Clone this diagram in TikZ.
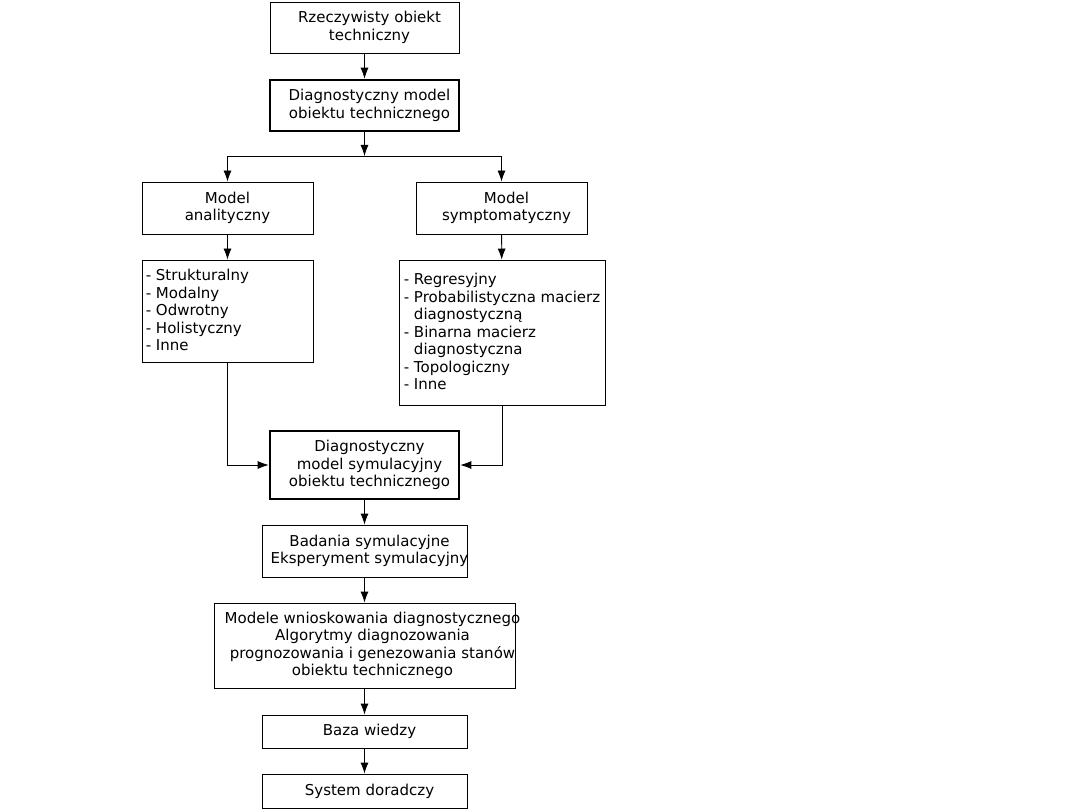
\documentclass[tikz,border=0pt]{standalone}
\usepackage{fontspec}
\setmainfont{DejaVu Sans}
\usetikzlibrary{arrows.meta}
\begin{document}
\begin{tikzpicture}[x=1pt,y=-1pt,
  txt/.style={inner sep=0pt, align=center, xshift=5pt, font=\fontsize{15}{17.5}\selectfont},
  lst/.style={inner sep=0pt, align=left, anchor=west, font=\fontsize{15}{17.5}\selectfont},
  box/.style={draw, line width=0.8pt, inner sep=0pt},
  thickbox/.style={box, line width=2.6pt},
  arr/.style={line width=0.8pt, -{Latex[length=11pt,width=8pt]}}]
\useasboundingbox (0,0) rectangle (1080,810);
\node[box, minimum width=189pt, minimum height=51pt,
  label={[txt]center:Rzeczywisty obiekt\\techniczny}] (n1) at (364.5,27.5) {};
\node[thickbox, minimum width=189pt, minimum height=51pt,
  label={[txt]center:Diagnostyczny model\\obiektu technicznego}] (n2) at (364.5,105.5) {};
\coordinate (split) at (364.5,156);
\node[box, minimum width=171pt, minimum height=52pt,
  label={[txt, xshift=-5pt]center:Model\\analityczny}] (n3) at (227.5,208) {};
\node[box, minimum width=171pt, minimum height=52pt,
  label={[txt]center:Model\\symptomatyczny}] (n4) at (501.5,208) {};
\node[box, minimum width=171pt, minimum height=102pt,
  label={[lst, xshift=4pt, yshift=1pt]west:- Strukturalny\\- Modalny\\- Odwrotny\\- Holistyczny\\- Inne}] (n5) at (227.5,311) {};
\node[box, minimum width=206pt, minimum height=145pt,
  label={[lst, xshift=5pt, yshift=1pt]west:- Regresyjny\\- Probabilistyczna macierz\\\phantom{- }diagnostyczną\\- Binarna macierz\\\phantom{- }diagnostyczna\\- Topologiczny\\- Inne}] (n6) at (502,332.5) {};
\node[thickbox, minimum width=189pt, minimum height=68pt,
  label={[txt]center:Diagnostyczny\\model symulacyjny\\obiektu technicznego}] (n7) at (364.5,465) {};
\node[box, minimum width=205pt, minimum height=52pt,
  label={[txt]center:Badania symulacyjne\\Eksperyment symulacyjny}] (n8) at (364.5,551) {};
\node[box, minimum width=301pt, minimum height=85pt,
  label={[txt, xshift=3pt]center:Modele wnioskowania diagnostycznego\\Algorytmy diagnozowania\\prognozowania i genezowania stanów\\obiektu technicznego}] (n9) at (364.5,645.5) {};
\node[box, minimum width=205pt, minimum height=33pt,
  label={[txt]center:Baza wiedzy}] (n10) at (364.5,731.5) {};
\node[box, minimum width=205pt, minimum height=34pt,
  label={[txt]center:System doradczy}] (n11) at (364.5,791) {};
\draw[arr] (n1) -- (n2);
\draw[arr] (n2) -- (split);
\draw[arr] (split) -| (n3.north);
\draw[arr] (split) -| (n4.north);
\draw[arr] (n3) -- (n5);
\draw[arr] (n4) -- (n6);
\draw[arr] (n5.south) |- (n7.west);
\draw[arr] (n6.south) |- (n7.east);
\draw[arr] (n7) -- (n8);
\draw[arr] (n8) -- (n9);
\draw[arr] (n9) -- (n10);
\draw[arr] (n10) -- (n11);
\end{tikzpicture}
\end{document}
